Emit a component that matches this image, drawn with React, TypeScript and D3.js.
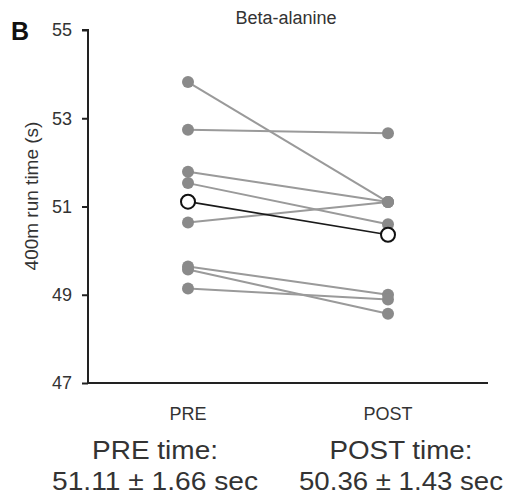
import React, { useEffect, useRef } from 'react';
import * as d3 from 'd3';

const phases = ['PRE', 'POST'];
const preTimes = [53.82, 52.74, 51.79, 51.53, 50.64, 49.64, 49.57, 49.14];
const postTimes = [51.1, 52.66, 51.1, 50.6, 51.1, 49.0, 48.57, 48.89];
const meanTimes = [51.11, 50.36];
const yTicks = [47, 49, 51, 53, 55];
const summaryLabels = [
  { title: 'PRE time:', value: '51.11 ± 1.66 sec', cx: 155, tw: 126, vw: 206 },
  { title: 'POST time:', value: '50.36 ± 1.43 sec', cx: 401, tw: 143, vw: 204 },
];

const FONT = '"Liberation Sans", Arial, Helvetica, sans-serif';

const App = () => {
  const svgRef = useRef<SVGSVGElement | null>(null);

  useEffect(() => {
    if (!svgRef.current) return;
    const svg = d3.select(svgRef.current);
    svg.selectAll('*').remove();

    const x = d3.scalePoint<string>().domain(phases).range([88, 488]).padding(0.5);
    const y = d3.scaleLinear().domain([47, 55]).range([383, 30]);

    const g = svg.append('g').style('font-family', FONT);

    // y axis
    const yAxis = g.append('g')
      .attr('transform', 'translate(88,0)')
      .call(d3.axisLeft(y).tickValues(yTicks).tickSize(6).tickPadding(10).tickFormat(d3.format('d')));
    yAxis.select('.domain').attr('stroke', '#222').attr('stroke-width', 2).attr('d', `M-6,${y(55)}H0V${y(47)}`);
    yAxis.selectAll('.tick line').attr('stroke', '#222').attr('stroke-width', 2);
    yAxis.selectAll('.tick text')
      .attr('fill', '#333')
      .style('font-size', '18px')
      .style('font-family', FONT);

    // x axis baseline
    g.append('line')
      .attr('x1', 88).attr('x2', 488)
      .attr('y1', y(47)).attr('y2', y(47))
      .attr('stroke', '#222').attr('stroke-width', 2);

    g.selectAll('text.phase')
      .data(phases)
      .enter()
      .append('text')
      .attr('class', 'phase')
      .attr('x', d => x(d)!)
      .attr('y', 420)
      .attr('text-anchor', 'middle')
      .attr('fill', '#333')
      .style('font-size', '18px')
      .text(d => d);

    // individual lines
    const pairs = preTimes.map((p, i) => [p, postTimes[i]]);
    const line = d3.line<number>().x((_, i) => x(phases[i])!).y(d => y(d));

    g.selectAll('path.subj')
      .data(pairs)
      .enter()
      .append('path')
      .attr('class', 'subj')
      .attr('d', d => line(d))
      .attr('fill', 'none')
      .attr('stroke', '#9a9a9a')
      .attr('stroke-width', 2);

    const pts = pairs.flatMap(d => d.map((v, i) => ({ v, i })));
    g.selectAll('circle.subj')
      .data(pts)
      .enter()
      .append('circle')
      .attr('class', 'subj')
      .attr('cx', d => x(phases[d.i])!)
      .attr('cy', d => y(d.v))
      .attr('r', 6)
      .attr('fill', '#8a8a8a');

    // mean
    g.append('path')
      .attr('d', line(meanTimes))
      .attr('fill', 'none')
      .attr('stroke', '#1a1a1a')
      .attr('stroke-width', 1.6);

    g.selectAll('circle.mean')
      .data(meanTimes)
      .enter()
      .append('circle')
      .attr('class', 'mean')
      .attr('cx', (_, i) => x(phases[i])!)
      .attr('cy', d => y(d))
      .attr('r', 7)
      .attr('fill', '#fff')
      .attr('stroke', '#111')
      .attr('stroke-width', 2);

    // title, panel letter, y label
    g.append('text')
      .attr('x', 286).attr('y', 24)
      .attr('text-anchor', 'middle')
      .attr('fill', '#333')
      .style('font-size', '18px')
      .text('Beta-alanine');

    g.append('text')
      .attr('x', 11).attr('y', 40)
      .attr('fill', '#111')
      .style('font-size', '25px')
      .style('font-weight', 'bold')
      .text('B');

    g.append('text')
      .attr('transform', `translate(38,196) rotate(-90)`)
      .attr('text-anchor', 'middle')
      .attr('fill', '#333')
      .style('font-size', '19px')
      .text('400m run time (s)');

    // summaries
    summaryLabels.forEach(s => {
      g.append('text')
        .attr('x', s.cx).attr('y', 459)
        .attr('text-anchor', 'middle')
        .attr('fill', '#333')
        .attr('textLength', s.tw)
        .attr('lengthAdjust', 'spacingAndGlyphs')
        .style('font-size', '25px')
        .text(s.title);
      g.append('text')
        .attr('x', s.cx).attr('y', 490)
        .attr('text-anchor', 'middle')
        .attr('fill', '#333')
        .attr('textLength', s.vw)
        .attr('lengthAdjust', 'spacingAndGlyphs')
        .style('font-size', '25px')
        .text(s.value);
    });
  }, []);

  return (
    <svg
      ref={svgRef}
      width={505}
      height={495}
      style={{ position: 'absolute', left: 0, top: 0, background: '#fff' }}
    />
  );
};

export default App;
